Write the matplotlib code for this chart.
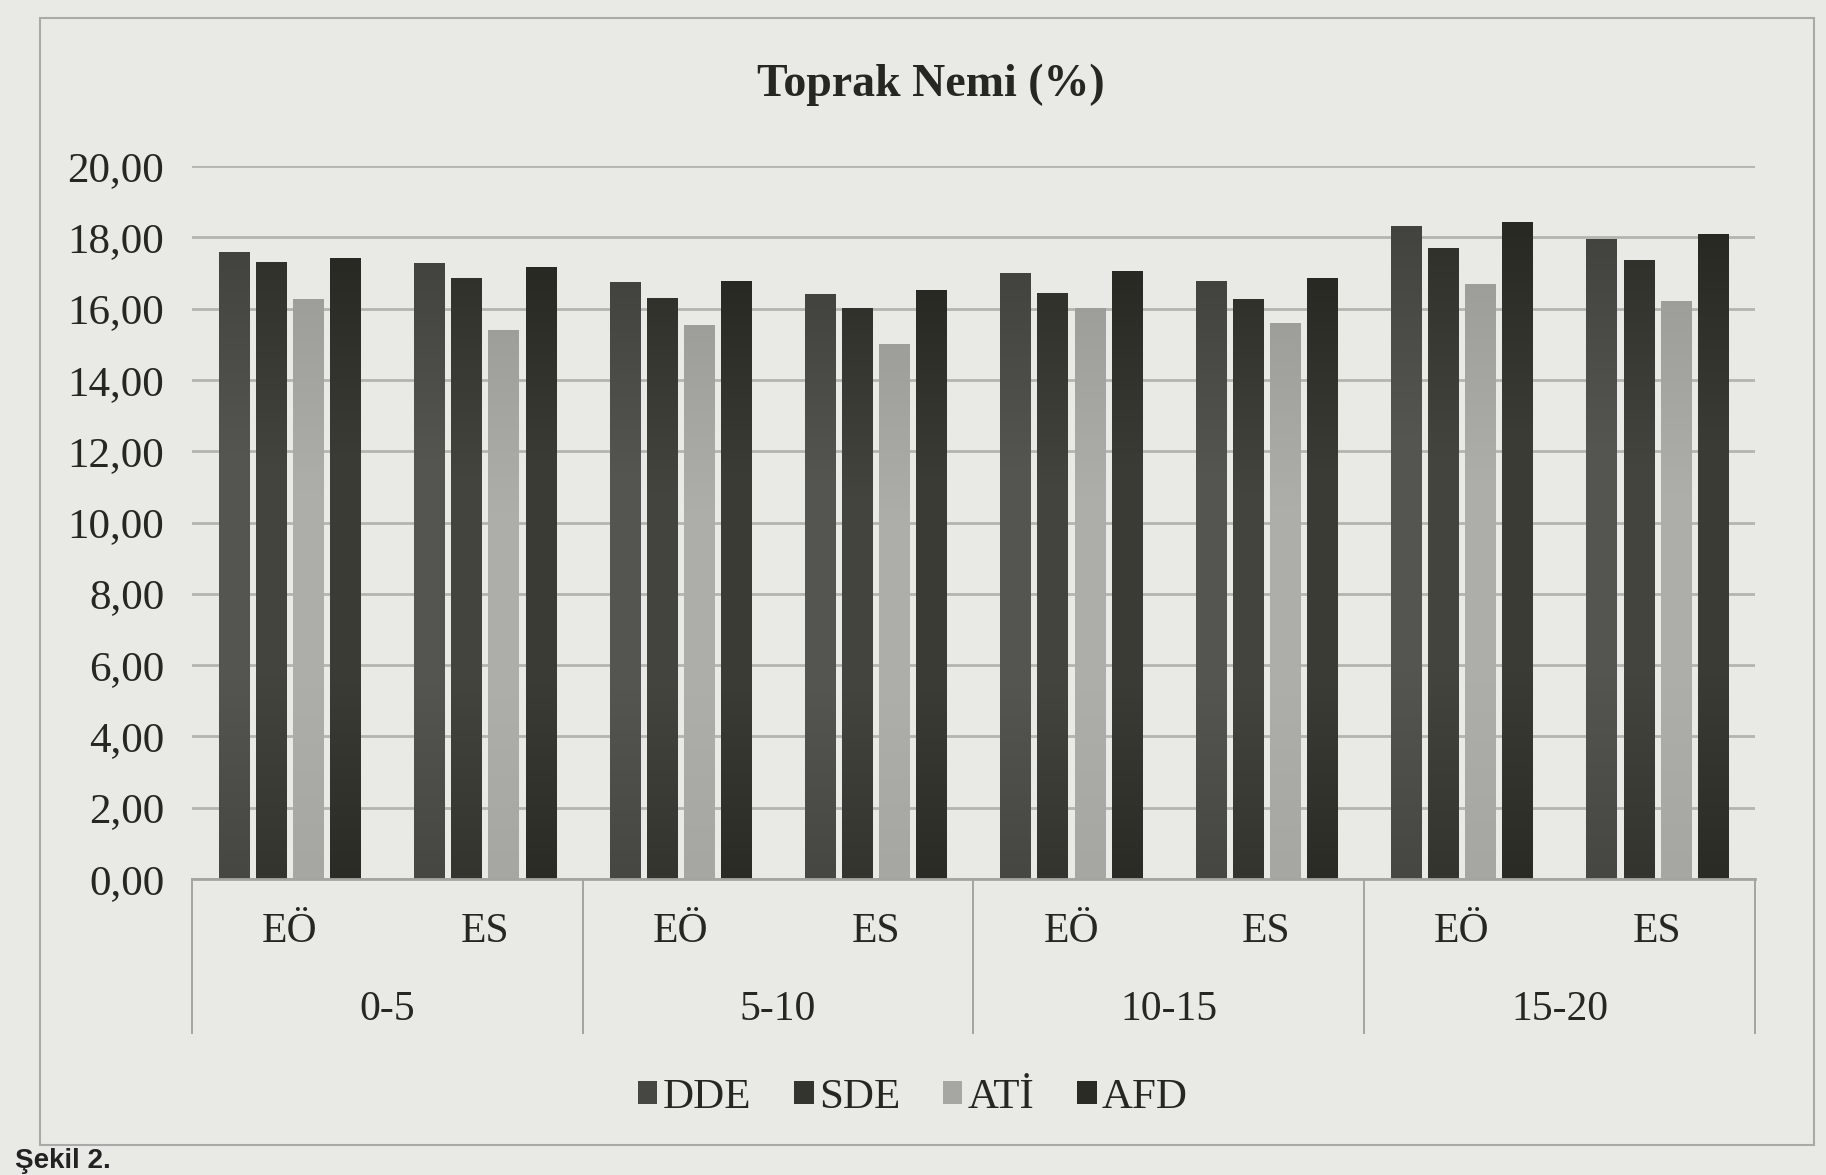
import matplotlib
matplotlib.use("Agg")
import matplotlib.pyplot as plt
import numpy as np
from matplotlib.colors import to_rgb, LinearSegmentedColormap
from matplotlib.patches import Patch, Rectangle
from matplotlib.transforms import blended_transform_factory

# ---- data -------------------------------------------------------------
depths = ["0-5", "5-10", "10-15", "15-20"]
sides = ["EÖ", "ES"]
series_names = ["DDE", "SDE", "ATİ", "AFD"]

dde = [17.60, 17.29, 16.76, 16.41, 17.01, 16.77, 18.33, 17.94]
sde = [17.30, 16.87, 16.29, 16.02, 16.43, 16.26, 17.71, 17.36]
ati = [16.26, 15.40, 15.54, 15.02, 16.02, 15.60, 16.68, 16.20]
afd = [17.43, 17.18, 16.77, 16.53, 17.06, 16.87, 18.42, 18.08]

y_ticks = [0, 2, 4, 6, 8, 10, 12, 14, 16, 18, 20]

# ---- style ------------------------------------------------------------
paper = "#e9e9e5"
text_col = "#262623"
grid_col = "#b4b4b0"
axis_col = "#a4a4a0"
series_colors = ["#464642", "#34342e", "#a6a6a2", "#2b2b25"]
serif = ["Liberation Serif", "DejaVu Serif"]

plt.rcParams["font.family"] = serif

fig = plt.figure(figsize=(18.26, 11.75), dpi=100)
fig.patch.set_facecolor(paper)

ax = fig.add_axes([0.1051, 0.2519, 0.8560, 0.6068])
ax.set_facecolor("none")

n_cat = len(depths) * len(sides)
x = np.arange(n_cat)
pitch = 0.19
width = 0.155

all_series = [dde, sde, ati, afd]


def shade_map(color):
    base = np.array(to_rgb(color))
    light = base + (1 - base) * 0.08
    dark = base * 0.95
    return LinearSegmentedColormap.from_list(
        "shade", [base, light, light, dark], N=256)


grad = np.linspace(0, 1, 256).reshape(-1, 1)

for i, (vals, col) in enumerate(zip(all_series, series_colors)):
    offs = (i - 1.5) * pitch
    bars = ax.bar(x + offs, vals, width=width, color=col,
                  edgecolor="none", zorder=3)
    cm = shade_map(col)
    for b in bars:
        img = ax.imshow(grad, extent=[b.get_x(), b.get_x() + b.get_width(),
                                      0, b.get_height()],
                        aspect="auto", cmap=cm, origin="lower",
                        zorder=3.1, interpolation="bilinear")
        img.set_clip_path(b)

ax.set_xlim(-0.5, n_cat - 0.5)
ax.set_ylim(0, 20)
ax.set_yticks(y_ticks)
ax.set_yticklabels([f"{v:.2f}".replace(".", ",") for v in y_ticks])
ax.yaxis.grid(True, color=grid_col, linewidth=2.0, zorder=0)
ax.set_axisbelow(True)
ax.tick_params(axis="y", length=0, pad=20, labelsize=31, labelcolor=text_col)
ax.tick_params(axis="x", length=0, labelbottom=False)
for s in ax.spines.values():
    s.set_visible(False)

# two-level category axis
trans = blended_transform_factory(ax.transData, ax.transAxes)
ax.plot([-0.5, n_cat - 0.5], [0, 0], transform=trans, color=axis_col,
        lw=2.0, clip_on=False, zorder=4)
for k in range(len(depths) + 1):
    xs = -0.5 + 2 * k
    ax.plot([xs, xs], [0, -0.216], transform=trans, color=axis_col,
            lw=1.4, clip_on=False)
for k in range(n_cat):
    ax.text(x[k], -0.074, sides[k % 2], transform=trans, ha="center",
            va="center", fontsize=30, color=text_col)
for k, d in enumerate(depths):
    ax.text(2 * k + 0.5, -0.184, d, transform=trans, ha="center",
            va="center", fontsize=30, color=text_col)

# title
fig.text(0.51, 0.928, "Toprak Nemi (%)", ha="center", va="center",
         fontsize=33, fontweight="bold", color=text_col)

# legend
handles = [Patch(facecolor=c, edgecolor="none") for c in series_colors]
fig.legend(handles, series_names, loc="center", bbox_to_anchor=(0.5, 0.066),
           ncol=4, frameon=False, fontsize=31, handlelength=0.45,
           handleheight=0.45, handletextpad=0.12, columnspacing=1.0,
           labelcolor=text_col)

# chart area frame
frame_left, frame_right = 0.022, 0.9934
frame_bottom, frame_top = 0.0255, 0.9847
fig.add_artist(Rectangle((frame_left, frame_bottom),
                         frame_right - frame_left, frame_top - frame_bottom,
                         transform=fig.transFigure, fill=False,
                         edgecolor="#a9a9a5", lw=1.5))

# figure caption below the frame
fig.text(0.008, 0.001, "Şekil 2.", ha="left", va="bottom", fontsize=20,
         fontweight="bold", color="#222222",
         family=["Liberation Sans", "DejaVu Sans"])

fig.savefig("out.png", dpi=100, facecolor=paper)
